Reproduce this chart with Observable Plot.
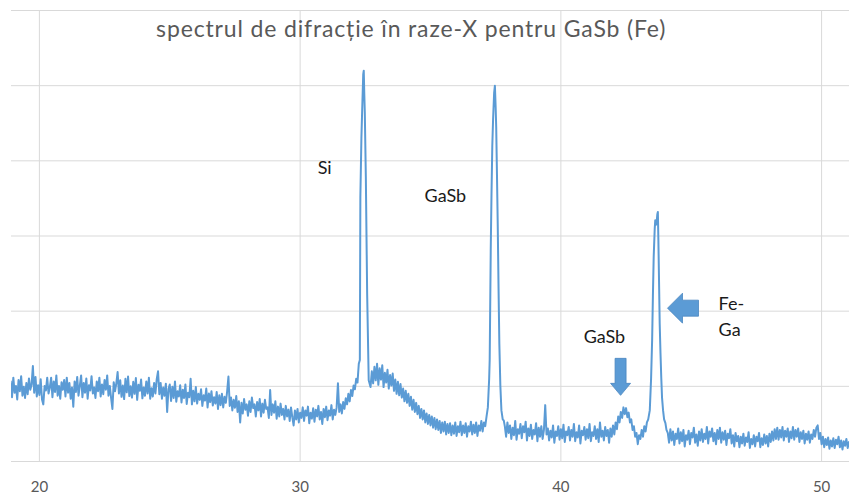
<!DOCTYPE html>
<html>
<head>
<meta charset="utf-8">
<script src="https://cdn.jsdelivr.net/npm/d3@7"></script>
<script src="https://cdn.jsdelivr.net/npm/@observablehq/plot@0.6"></script>
<style>
  html, body { margin: 0; padding: 0; background: #ffffff; }
  #chart { width: 849px; height: 503px; }
</style>
</head>
<body>
<div id="chart"></div>
<script>
// ---- Data (2θ in degrees, intensity in arbitrary counts) ----
const backgroundLow = [
  [18.90,1065],[18.95,855],[19.00,1115],[19.05,915],[19.10,1005],[19.15,825],[19.20,1085],[19.25,935],[19.30,1135],[19.35,875],
  [19.40,995],[19.45,845],[19.50,1045],[19.55,895],[19.60,1105],[19.65,955],[19.70,1020],[19.75,1270],[19.80,915],[19.85,1125],
  [19.90,865],[19.95,1015],[20.00,885],[20.05,1095],[20.10,825],[20.15,760],[20.20,1005],[20.25,945],[20.30,1115],[20.35,905],
  [20.40,985],[20.45,1115],[20.50,855],[20.55,1065],[20.60,925],[20.65,1145],[20.70,875],[20.75,1005],[20.80,835],[20.85,1055],
  [20.90,955],[20.95,1085],[21.00,865],[21.05,1115],[21.10,915],[21.15,1045],[21.20,835],[21.25,985],[21.30,730],[21.35,1065],
  [21.40,925],[21.45,1125],[21.50,875],[21.55,1005],[21.60,1145],[21.65,855],[21.70,1045],[21.75,915],[21.80,1105],[21.85,835],
  [21.90,1015],[21.95,945],[22.00,1135],[22.05,905],[22.10,985],[22.15,845],[22.20,1065],[22.25,935],[22.30,1115],[22.35,865],
  [22.40,1025],[22.45,895],[22.50,1085],[22.55,955],[22.60,1145],[22.65,875],[22.70,1005],[22.75,845],[22.80,700],[22.85,1055],
  [22.90,935],[22.95,1040],[23.00,1190],[23.05,905],[23.10,1080],[23.15,860],[23.20,1010],[23.25,830],[23.30,1100],[23.35,920],
  [23.40,1130],[23.45,870],[23.50,1000],[23.55,850],[23.60,1060],[23.65,900],[23.70,1110],[23.75,820],[23.80,1020],[23.85,940],
  [23.90,1090],[23.95,840],[24.00,985],[24.05,875],[24.10,1065],[24.15,905],[24.20,1115],[24.25,835],[24.30,975],[24.35,865],
  [24.40,1045],[24.45,905],[24.50,1095],[24.55,1200],[24.60,895],[24.65,1045],[24.70,835],[24.75,985],[24.80,875],[24.85,1035],
  [24.90,660],[24.95,965],[25.00,1025],[25.05,805],[25.10,995],[25.15,845],[25.20,1065],[25.25,795],[25.30,935],[25.35,865],
  [25.40,1015],[25.45,785],[25.50,955],[25.55,845],[25.60,1025],[25.65,765],[25.70,915],[25.75,855],[25.80,1100],[25.85,760],
  [25.90,940],[25.95,800],[26.00,990],[26.05,770],[26.10,900],[26.15,820],[26.20,960],[26.25,740],[26.30,880],[26.35,810],
  [26.40,970],[26.45,720],[26.50,905],[26.55,790],[26.60,935],[26.65,745],[26.70,855],[26.75,770],[26.80,925],[26.85,700],
  [26.90,880],[26.95,750],[27.00,900],[27.05,720],[27.10,860],[27.15,780],[27.20,930],[27.25,1130],[27.30,740],[27.35,850],
  [27.40,680],[27.45,820],[27.50,715],[27.55,870],[27.60,660],[27.65,800],[27.70,520],[27.75,780],[27.80,640],[27.85,830],
  [27.90,690],[27.95,760],[28.00,610],[28.05,800],[28.10,660],[28.15,850],[28.20,710],[28.25,760],[28.30,600],[28.35,790],
  [28.40,680],[28.45,830],[28.50,600],[28.55,770],[28.60,650],[28.65,820],[28.70,700],[28.75,720],[28.80,580],[28.85,950],
  [28.90,620],[28.95,760],[29.00,650],[29.05,800],[29.10,570],[29.15,730],[29.20,600],[29.25,770],[29.30,620],[29.35,700],
  [29.40,560],[29.45,740],[29.50,600],[29.55,690],[29.60,540],[29.65,720],[29.70,590],[29.75,480],[29.80,680],[29.85,560],
  [29.90,700],[29.95,520],[30.00,650],[30.05,580],[30.10,720],[30.15,540],[30.20,680],[30.25,610],[30.30,730],[30.35,510],
  [30.40,650],[30.45,570],[30.50,710],[30.55,530],[30.60,690],[30.65,600],[30.70,740],[30.75,560],[30.80,660],[30.85,500],
  [30.90,700],[30.95,590],[31.00,730],[31.05,550],[31.10,680],[31.15,610],[31.20,750],[31.25,560],[31.30,690],[31.35,620],
  [31.40,720],[31.45,1040],[31.50,660],[31.55,760],[31.60,640],[31.65,790],[31.70,700],[31.75,840],[31.80,760],[31.85,900],
  [31.90,800],[31.95,950],[32.00,870],[32.05,1010],[32.10,960],[32.15,1100],[32.20,1050],[32.25,1300]
];
const peakSi = [
  [32.29,1350],[32.31,3520],[32.35,4300],[32.38,4680],[32.42,5150],[32.44,5200],[32.46,4900],[32.48,4650],
  [32.52,3790],[32.57,2240],[32.63,1080],[32.70,990]
];
const amorphousHump = [
  [32.75,1200],[32.80,1040],[32.85,1260],[32.90,1080],[32.95,1300],[33.00,1020],[33.05,1240],[33.10,1090],[33.15,1280],[33.20,990],
  [33.25,1180],[33.30,1050],[33.35,1220],[33.40,970],[33.45,1150],[33.50,1010],[33.55,1170],[33.60,940],[33.65,1090],[33.70,900],
  [33.75,1060],[33.80,880],[33.85,1030],[33.90,850],[33.95,970],[34.00,800],[34.05,940],[34.10,780],[34.15,900],[34.20,740],
  [34.25,860],[34.30,690],[34.35,820],[34.40,660],[34.45,780],[34.50,630],[34.55,740],[34.60,580],[34.65,700],[34.70,560],
  [34.75,680],[34.80,520],[34.85,640],[34.90,500],[34.95,620],[35.00,480],[35.05,600],[35.10,450],[35.15,580],[35.20,430],
  [35.25,560],[35.30,420],[35.35,540],[35.40,380],[35.45,520],[35.50,400],[35.55,530],[35.60,360],[35.65,500],[35.70,380],
  [35.75,510],[35.80,350],[35.85,480],[35.90,370],[35.95,520],[36.00,340],[36.05,470],[36.10,390],[36.15,530],[36.20,350],
  [36.25,480],[36.30,380],[36.35,510],[36.40,330],[36.45,470],[36.50,400],[36.55,530],[36.60,360],[36.65,490],[36.70,380],
  [36.75,520],[36.80,340],[36.85,480],[36.90,410],[36.95,540],[37.00,400],[37.05,520],[37.10,470],[37.15,600],[37.20,720],
  [37.25,1100]
];
const peakGaSb = [
  [37.27,1350],[37.31,2800],[37.34,3570],[37.37,4200],[37.40,4550],[37.44,4900],[37.47,5000],[37.50,4700],
  [37.52,4450],[37.55,3800],[37.58,3120],[37.61,2300],[37.64,1570],[37.68,1000],[37.72,680],[37.77,560],[37.81,547]
];
const backgroundMid = [
  [37.85,470],[37.90,330],[37.95,520],[38.00,380],[38.05,480],[38.10,300],[38.15,450],[38.20,350],[38.25,540],[38.30,290],
  [38.35,430],[38.40,370],[38.45,500],[38.50,310],[38.55,470],[38.60,390],[38.65,530],[38.70,280],[38.75,440],[38.80,340],
  [38.85,490],[38.90,300],[38.95,420],[39.00,360],[39.05,510],[39.10,270],[39.15,450],[39.20,330],[39.25,470],[39.30,300],
  [39.35,420],[39.40,750],[39.45,360],[39.50,440],[39.55,280],[39.60,410],[39.65,320],[39.70,480],[39.75,250],[39.80,400],
  [39.85,340],[39.90,470],[39.95,290],[40.00,430],[40.05,310],[40.10,490],[40.15,260],[40.20,400],[40.25,350],[40.30,460],
  [40.35,280],[40.40,420],[40.45,330],[40.50,500],[40.55,270],[40.60,390],[40.65,320],[40.70,480],[40.75,240],[40.80,410],
  [40.85,350],[40.90,460],[40.95,290],[41.00,430],[41.05,310],[41.10,500],[41.15,270],[41.20,390],[41.25,340],[41.30,470],
  [41.35,300],[41.40,430],[41.45,260],[41.50,520],[41.55,330],[41.60,410],[41.65,280],[41.70,460],[41.75,340],[41.80,420],
  [41.85,250],[41.90,440],[41.95,330],[42.00,480],[42.05,360],[42.10,520],[42.15,430],[42.20,600],[42.25,520],[42.30,660],
  [42.35,580],[42.40,720],[42.45,630],[42.50,710],[42.55,590],[42.60,650],[42.65,520],[42.70,560],[42.75,420],[42.80,470],
  [42.85,330],[42.90,380],[42.95,230],[43.00,350],[43.05,300],[43.10,420],[43.15,330],[43.20,470],[43.25,400],[43.30,520],
  [43.35,560]
];
const peakFeGa = [
  [43.41,680],[43.46,1100],[43.50,1610],[43.53,2200],[43.56,2720],[43.60,3100],[43.62,3210],[43.65,3150],[43.67,3170],
  [43.70,3290],[43.72,3320],[43.74,2950],[43.76,2510],[43.79,1840],[43.82,1450],[43.85,1120],[43.88,850],[43.92,680],
  [43.96,560],[44.01,510],[44.05,420]
];
const backgroundHigh = [
  [44.10,380],[44.15,250],[44.20,430],[44.25,280],[44.30,400],[44.35,220],[44.40,370],[44.45,300],[44.50,440],[44.55,240],
  [44.60,390],[44.65,270],[44.70,420],[44.75,200],[44.80,350],[44.85,290],[44.90,410],[44.95,230],[45.00,380],[45.05,320],
  [45.10,450],[45.15,250],[45.20,360],[45.25,210],[45.30,400],[45.35,280],[45.40,430],[45.45,260],[45.50,370],[45.55,300],
  [45.60,460],[45.65,240],[45.70,400],[45.75,330],[45.80,440],[45.85,270],[45.90,380],[45.95,230],[46.00,420],[46.05,300],
  [46.10,450],[46.15,250],[46.20,390],[46.25,290],[46.30,410],[46.35,220],[46.40,370],[46.45,310],[46.50,430],[46.55,240],
  [46.60,350],[46.65,200],[46.70,380],[46.75,270],[46.80,340],[46.85,190],[46.90,330],[46.95,240],[47.00,370],[47.05,210],
  [47.10,320],[47.15,260],[47.20,390],[47.25,180],[47.30,300],[47.35,230],[47.40,350],[47.45,200],[47.50,330],[47.55,270],
  [47.60,380],[47.65,190],[47.70,310],[47.75,220],[47.80,360],[47.85,240],[47.90,340],[47.95,200],[48.00,370],[48.05,260],
  [48.10,400],[48.15,280],[48.20,430],[48.25,300],[48.30,450],[48.35,290],[48.40,420],[48.45,320],[48.50,460],[48.55,280],
  [48.60,410],[48.65,330],[48.70,440],[48.75,260],[48.80,400],[48.85,310],[48.90,460],[48.95,290],[49.00,420],[49.05,330],
  [49.10,440],[49.15,260],[49.20,390],[49.25,300],[49.30,410],[49.35,240],[49.40,370],[49.45,290],[49.50,400],[49.55,250],
  [49.60,360],[49.65,300],[49.70,420],[49.75,330],[49.80,450],[49.85,480],[49.90,300],[49.95,380],[50.00,230],[50.05,330],
  [50.10,190],[50.15,300],[50.20,220],[50.25,320],[50.30,170],[50.35,280],[50.40,200],[50.45,310],[50.50,180],[50.55,290],
  [50.60,230],[50.65,330],[50.70,190],[50.75,280],[50.80,160],[50.85,270],[50.90,210],[50.95,300],[51.00,180],[51.05,260],
  [51.10,220]
];

const xTicks = [20, 30, 40, 50];
const yGrid = [1000, 2000, 3000, 4000, 5000, 6000];

const titleText = "spectrul de difracție în raze-X pentru GaSb (Fe)";
const titlePos = [{x: 34.26, y: 5752, label: titleText}];
const peakLabelsCentered = [
  {x: 30.94, y: 3904, label: "Si"},
  {x: 35.57, y: 3531, label: "GaSb"},
  {x: 41.67, y: 1651, label: "GaSb"}
];
const peakLabelsLeft = [
  {x: 46.05, y: 2091, label: "Fe-"},
  {x: 46.05, y: 1744, label: "Ga"}
];
const arrowDownTips = [{x: 42.29, y: 880}];
const arrowLeftTips = [{x: 44.09, y: 2040}];

// ---- Build ----
const scan = [...backgroundLow, ...peakSi, ...amorphousHump, ...peakGaSb, ...backgroundMid, ...peakFeGa, ...backgroundHigh]
  .map(([t, c]) => ({theta: t, counts: c}));

// block-arrow symbols (tip at the anchor point)
const arrowDown = {
  draw(ctx) {
    ctx.moveTo(0, 0); ctx.lineTo(10, -12); ctx.lineTo(5.5, -12); ctx.lineTo(5.5, -37);
    ctx.lineTo(-5.5, -37); ctx.lineTo(-5.5, -12); ctx.lineTo(-10, -12); ctx.closePath();
  }
};
const arrowLeft = {
  draw(ctx) {
    ctx.moveTo(0, 0); ctx.lineTo(15, -15); ctx.lineTo(15, -8); ctx.lineTo(31, -8);
    ctx.lineTo(31, 8); ctx.lineTo(15, 8); ctx.lineTo(15, 15); ctx.closePath();
  }
};

const gridColor = "#d9d9d9";
const lineColor = "#5b9bd5";

const chart = Plot.plot({
  width: 849,
  height: 503,
  marginLeft: 11,
  marginRight: 0,
  marginTop: 10,
  marginBottom: 42,
  style: {fontFamily: "Lato, 'Open Sans', sans-serif", fontSize: "15px", color: "#595959", background: "#ffffff"},
  x: {domain: [18.93, 51.07], ticks: xTicks, tickSize: 0, tickPadding: 20, label: null, tickFormat: d => String(d)},
  y: {domain: [0, 6000], axis: null},
  marks: [
    Plot.ruleY(yGrid, {stroke: gridColor, strokeWidth: 1}),
    Plot.ruleX(xTicks, {stroke: gridColor, strokeWidth: 1}),
    Plot.ruleY([0], {stroke: gridColor, strokeWidth: 1.2}),
    Plot.line(scan, {x: "theta", y: "counts", stroke: lineColor, strokeWidth: 2, clip: true}),
    Plot.dot(arrowDownTips, {x: "x", y: "y", symbol: arrowDown, r: 5, fill: lineColor, stroke: "#4a86c0", strokeWidth: 0.8}),
    Plot.dot(arrowLeftTips, {x: "x", y: "y", symbol: arrowLeft, r: 5, fill: lineColor, stroke: "#4a86c0", strokeWidth: 0.8}),
    Plot.text(titlePos, {x: "x", y: "y", text: "label", fontSize: 23, fill: "#595959", textAnchor: "middle"}),
    Plot.text(peakLabelsCentered, {x: "x", y: "y", text: "label", fontSize: 18, fill: "#1a1a1a", textAnchor: "middle"}),
    Plot.text(peakLabelsLeft, {x: "x", y: "y", text: "label", fontSize: 18, fill: "#1a1a1a", textAnchor: "start"})
  ]
});
d3.select(chart).selectAll("text")
  .filter(function() { return this.textContent === titleText; })
  .style("letter-spacing", "0.85px");
document.getElementById("chart").appendChild(chart);
</script>
</body>
</html>
